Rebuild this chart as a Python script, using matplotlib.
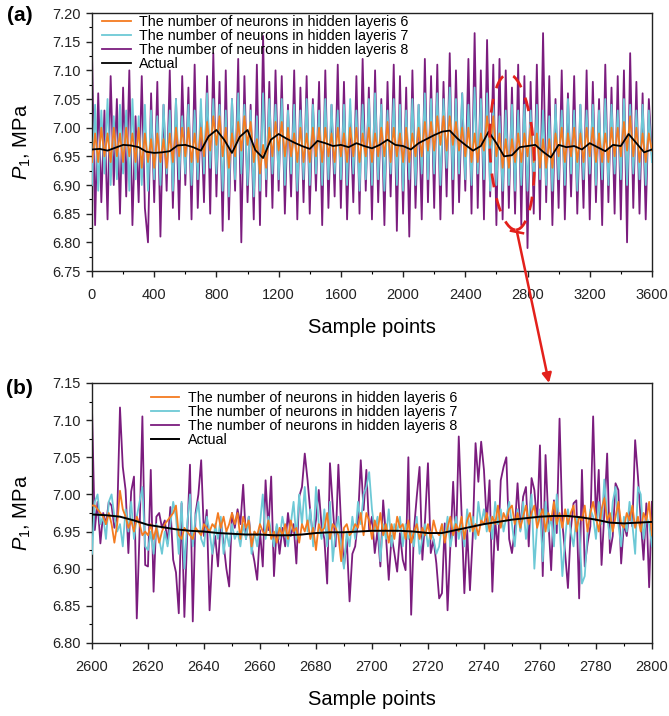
import numpy as np
import matplotlib
matplotlib.use("Agg")
import matplotlib.pyplot as plt
from matplotlib.patches import Ellipse, FancyArrowPatch
from matplotlib.lines import Line2D

plt.rcParams['font.family'] = ['Liberation Sans', 'DejaVu Sans']
plt.rcParams['mathtext.fontset'] = 'custom'
plt.rcParams['mathtext.rm'] = 'Liberation Sans'
plt.rcParams['mathtext.it'] = 'Liberation Sans:italic'

labels = ["The number of neurons in hidden layeris 6",
          "The number of neurons in hidden layeris 7",
          "The number of neurons in hidden layeris 8",
          "Actual"]

# ---- panel (a): whole test set, one value every 20 samples
step_a = 20
hid8_a = [7.135, 6.83, 7.06, 6.87, 7.03, 6.84, 7.09, 6.90, 7.05, 6.85,
          7.07, 6.88, 7.10, 6.83, 7.02, 6.87, 7.09, 6.86, 6.80, 7.06,
          6.87, 7.08, 6.81, 7.04, 6.89, 7.10, 6.86, 7.05, 6.84, 7.09,
          6.90, 7.07, 6.84, 7.11, 6.86, 7.03, 6.87, 7.09, 6.85, 7.13,
          6.88, 7.08, 6.82, 7.10, 6.84, 7.05, 6.89, 7.12, 6.80, 7.09,
          6.87, 7.04, 6.84, 7.11, 6.83, 7.16, 6.88, 7.08, 6.86, 7.10,
          6.89, 7.09, 6.85, 7.04, 6.88, 7.10, 6.84, 7.07, 6.87, 7.09,
          6.85, 7.05, 6.89, 7.08, 6.83, 7.10, 6.86, 7.04, 6.88, 7.11,
          6.86, 7.08, 6.84, 7.03, 6.87, 7.09, 6.85, 7.12, 6.89, 7.07,
          6.84, 7.10, 6.87, 7.05, 6.83, 7.08, 6.88, 7.11, 6.82, 7.09,
          6.85, 7.07, 6.81, 7.10, 6.86, 7.04, 6.84, 7.12, 6.87, 7.09,
          6.86, 7.11, 6.84, 7.08, 6.88, 7.13, 6.85, 7.10, 6.87, 7.06,
          6.89, 7.12, 6.85, 7.165, 6.86, 7.10, 6.84, 7.153, 6.88, 7.11,
          6.83, 7.12, 6.84, 7.10, 6.86, 7.07, 6.85, 7.11, 6.83, 7.09,
          6.79, 7.08, 6.85, 7.11, 6.84, 7.165, 6.87, 7.09, 6.83, 7.05,
          6.86, 7.10, 6.84, 7.06, 6.88, 7.09, 6.85, 7.04, 6.86, 7.10,
          6.84, 7.08, 6.87, 7.05, 6.83, 7.11, 6.87, 7.07, 6.85, 7.09,
          6.84, 7.10, 6.80, 7.13, 6.86, 7.08, 6.85, 7.06, 6.84, 7.05, 6.95]
hid7_a = [6.90, 7.04, 6.89, 7.03, 6.92, 7.05, 6.90, 7.02, 6.91, 7.04,
          6.92, 7.03, 6.89, 7.05, 6.91, 7.02, 6.90, 7.04, 6.89, 7.03,
          6.91, 7.02, 6.90, 7.04, 6.92, 7.03, 6.89, 7.05, 6.91, 7.02,
          6.92, 7.04, 6.90, 7.03, 6.91, 7.05, 6.92, 7.06, 6.93, 7.05,
          6.92, 7.04, 6.89, 7.03, 6.88, 7.05, 6.91, 7.06, 6.92, 7.04,
          6.90, 7.03, 6.88, 7.02, 6.89, 7.06, 6.91, 7.05, 6.92, 7.04,
          6.91, 7.05, 6.90, 7.03, 6.92, 7.04, 6.89, 7.03, 6.91, 7.05,
          6.90, 7.04, 6.92, 7.03, 6.90, 7.05, 6.91, 7.04, 6.92, 7.03,
          6.91, 7.04, 6.90, 7.05, 6.92, 7.03, 6.89, 7.04, 6.91, 7.05,
          6.90, 7.06, 6.91, 7.04, 6.89, 7.03, 6.92, 7.05, 6.90, 7.04,
          6.89, 7.03, 6.91, 7.05, 6.90, 7.04, 6.92, 7.06, 6.91, 7.05,
          6.92, 7.06, 6.90, 7.05, 6.93, 7.07, 6.91, 7.05, 6.92, 7.06,
          6.91, 7.04, 6.90, 7.07, 6.92, 7.05, 6.91, 7.06, 6.89, 7.04,
          6.90, 7.02, 6.89, 7.03, 6.90, 7.04, 6.89, 7.03, 6.90, 7.04,
          6.89, 7.03, 6.90, 7.04, 6.91, 7.03, 6.90, 7.02, 6.89, 7.04,
          6.91, 7.03, 6.90, 7.05, 6.92, 7.03, 6.89, 7.04, 6.91, 7.03,
          6.92, 7.04, 6.90, 7.03, 6.91, 7.05, 6.90, 7.04, 6.92, 7.03,
          6.91, 7.05, 6.90, 7.04, 6.92, 7.03, 6.91, 7.04, 6.90, 7.03, 6.94]
hid6_a = [6.94, 6.99, 6.94, 7.00, 6.95, 6.99, 6.94, 7.00, 6.95, 6.99,
          6.94, 7.00, 6.95, 6.99, 6.94, 7.00, 6.93, 6.99, 6.94, 6.98,
          6.93, 6.99, 6.94, 6.98, 6.93, 6.99, 6.94, 7.00, 6.95, 7.00,
          6.95, 7.00, 6.94, 6.99, 6.94, 7.00, 6.95, 7.01, 6.96, 7.02,
          6.97, 7.02, 6.95, 7.00, 6.93, 6.99, 6.95, 7.01, 6.96, 7.02,
          6.97, 7.01, 6.94, 6.98, 6.92, 6.97, 6.93, 7.00, 6.95, 7.01,
          6.96, 7.01, 6.95, 7.00, 6.95, 6.99, 6.94, 7.00, 6.94, 6.99,
          6.94, 7.00, 6.95, 7.00, 6.94, 7.00, 6.95, 6.99, 6.94, 7.00,
          6.95, 6.99, 6.94, 7.00, 6.95, 7.00, 6.94, 6.99, 6.95, 7.00,
          6.94, 6.99, 6.95, 7.00, 6.95, 7.01, 6.94, 7.00, 6.95, 6.99,
          6.94, 7.00, 6.94, 6.99, 6.95, 7.00, 6.95, 7.01, 6.96, 7.01,
          6.96, 7.02, 6.97, 7.02, 6.96, 7.02, 6.97, 7.01, 6.96, 7.00,
          6.95, 7.00, 6.94, 6.99, 6.94, 6.99, 6.96, 7.02, 6.97, 7.02,
          6.95, 6.99, 6.93, 6.98, 6.93, 6.98, 6.94, 6.99, 6.94, 6.99,
          6.95, 7.00, 6.94, 6.99, 6.93, 6.98, 6.93, 6.98, 6.93, 6.99,
          6.95, 7.00, 6.94, 6.99, 6.95, 7.00, 6.94, 6.99, 6.94, 7.00,
          6.95, 7.00, 6.94, 6.99, 6.94, 6.99, 6.94, 7.00, 6.95, 7.00,
          6.95, 7.01, 6.96, 7.02, 6.95, 7.00, 6.94, 6.99, 6.94, 6.99, 6.96]
actual_step_a = 50
actual_a = [6.962, 6.963, 6.960, 6.965, 6.970, 6.969, 6.966, 6.958, 6.956, 6.957,
            6.959, 6.969, 6.970, 6.966, 6.960, 6.985, 6.996, 6.979, 6.956, 6.984,
            6.996, 6.961, 6.947, 6.979, 6.989, 6.981, 6.974, 6.968, 6.963, 6.977,
            6.973, 6.968, 6.970, 6.966, 6.973, 6.968, 6.964, 6.970, 6.979, 6.970,
            6.968, 6.962, 6.973, 6.980, 6.987, 6.993, 6.995, 6.981, 6.970, 6.960,
            6.968, 6.993, 6.973, 6.950, 6.952, 6.966, 6.968, 6.970, 6.958, 6.948,
            6.970, 6.966, 6.968, 6.962, 6.973, 6.966, 6.959, 6.970, 6.968, 6.989,
            6.973, 6.957, 6.962]

# ---- panel (b): zoom on samples 2600-2800, every sample
start_b = 2600
hid8_b = [7.116, 6.952, 6.99, 6.934, 6.975, 6.96, 6.99, 6.985, 6.955, 6.97,
          7.117, 7.037, 7.006, 6.921, 7.004, 7.024, 6.833, 6.95, 7.105, 6.905,
          6.903, 7.033, 6.869, 6.97, 6.975, 6.955, 6.965, 6.934, 6.983, 6.912,
          6.895, 6.84, 6.988, 6.835, 6.944, 7.04, 6.829, 6.975, 7.0, 7.046,
          6.944, 6.979, 6.844, 6.92, 6.944, 6.903, 6.965, 6.934, 6.90, 6.876,
          6.975, 6.955, 6.98, 6.96, 7.013, 6.94, 6.97, 6.93, 6.91, 6.885,
          6.952, 6.903, 7.019, 6.952, 7.024, 6.89, 6.957, 6.92, 6.955, 6.93,
          6.975, 6.944, 6.96, 6.907, 6.997, 7.01, 7.055, 7.019, 6.975, 6.94,
          6.965, 7.006, 6.957, 6.94, 6.88, 7.042, 6.984, 6.93, 7.04, 6.957,
          6.903, 6.94, 6.856, 6.92, 6.93, 6.965, 7.046, 6.979, 7.033, 6.952,
          6.97, 6.921, 6.952, 6.903, 6.992, 6.944, 6.885, 6.944, 6.921, 6.896,
          6.948, 6.912, 6.898, 7.05, 6.838, 6.952, 6.997, 7.037, 6.912, 6.968,
          7.042, 6.921, 6.939, 6.907, 6.86, 6.867, 6.961, 6.844, 6.93, 7.017,
          6.93, 7.078, 6.975, 6.867, 6.952, 6.871, 6.944, 7.069, 7.017, 7.071,
          7.033, 6.961, 7.019, 6.869, 6.966, 6.925, 7.019, 7.037, 7.05, 6.94,
          6.921, 6.952, 7.015, 6.952, 6.997, 7.01, 6.93, 7.022, 7.006, 6.961,
          7.066, 6.89, 7.053, 6.965, 6.898, 6.992, 6.948, 7.102, 6.961, 6.921,
          6.874, 6.952, 6.988, 6.992, 6.86, 7.033, 6.903, 6.934, 6.957, 7.105,
          6.965, 7.033, 6.905, 6.975, 7.055, 6.921, 6.944, 7.015, 7.006, 6.907,
          6.961, 6.944, 6.979, 6.957, 7.073, 7.024, 6.965, 6.912, 6.988, 6.875,
          6.99]
hid7_b = [6.92, 6.99, 7.00, 6.96, 6.97, 6.94, 6.99, 7.00, 6.97, 6.95,
          6.96, 6.93, 6.98, 6.95, 6.99, 6.94, 6.97, 6.99, 7.01, 6.93,
          6.925, 6.95, 6.92, 6.96, 6.94, 6.92, 6.95, 6.93, 6.96, 6.99,
          6.97, 6.92, 6.99, 6.90, 6.96, 7.00, 6.93, 6.97, 6.99, 6.94,
          6.93, 6.97, 6.95, 6.92, 6.96, 6.94, 6.97, 6.92, 6.95, 6.93,
          6.96, 6.94, 6.95, 6.93, 6.96, 6.94, 6.97, 6.92, 6.95, 6.93,
          6.96, 7.00, 6.94, 6.97, 6.95, 6.93, 6.96, 6.94, 6.97, 6.95,
          6.93, 6.96, 6.99, 6.94, 7.00, 6.96, 7.01, 6.95, 6.98, 6.93,
          7.01, 6.96, 6.94, 6.98, 6.93, 6.99, 6.91, 6.95, 6.97, 6.93,
          6.90, 6.95, 6.93, 6.97, 6.94, 6.99, 6.96, 7.00, 7.01, 7.03,
          6.98, 6.95, 6.97, 6.91, 6.96, 6.94, 6.98, 6.93, 6.96, 6.95,
          6.97, 6.93, 6.96, 6.94, 6.95, 6.93, 6.97, 6.92, 6.94, 6.96,
          6.93, 6.95, 6.94, 6.92, 6.93, 6.96, 6.94, 6.97, 6.93, 6.95,
          6.97, 6.94, 6.96, 6.93, 6.98, 6.95, 6.97, 6.94, 6.99, 6.96,
          6.98, 6.95, 6.97, 6.94, 6.99, 6.96, 6.98, 6.95, 6.97, 6.99,
          6.96, 6.93, 6.98, 6.95, 6.99, 6.94, 6.97, 7.00, 6.90, 6.96,
          6.98, 6.91, 6.99, 6.95, 6.97, 6.93, 7.00, 6.96, 6.89, 6.94,
          6.98, 6.95, 6.93, 6.97, 6.96, 6.88, 6.89, 6.95, 6.98, 6.97,
          6.94, 6.99, 6.96, 7.02, 6.97, 6.94, 6.99, 7.01, 6.96, 6.93,
          6.97, 6.95, 6.99, 6.96, 6.92, 7.01, 7.00, 6.94, 6.97, 6.96,
          6.93]
hid6_b = [6.985, 6.985, 6.98, 6.975, 6.97, 6.96, 6.975, 6.96, 6.935, 6.96,
          7.005, 6.98, 6.97, 6.955, 6.965, 6.95, 6.97, 6.96, 6.945, 6.95,
          6.945, 6.96, 6.94, 6.955, 6.935, 6.95, 6.96, 6.965, 6.97, 6.975,
          6.985, 6.945, 6.94, 6.955, 6.95, 6.945, 6.94, 6.955, 6.95, 6.945,
          6.96, 6.955, 6.95, 6.96, 6.955, 6.975, 6.955, 6.97, 6.95, 6.96,
          6.975, 6.96, 6.975, 6.94, 6.97, 6.955, 6.965, 6.93, 6.95, 6.945,
          6.96, 6.95, 6.945, 6.965, 6.94, 6.95, 6.935, 6.955, 6.945, 6.96,
          6.94, 6.965, 6.95, 6.955, 6.935, 6.96, 6.95, 6.965, 6.94, 6.955,
          6.925, 6.96, 6.95, 6.955, 6.975, 6.94, 6.96, 6.955, 6.945, 6.91,
          6.955, 6.96, 6.945, 6.95, 6.96, 6.955, 6.975, 6.945, 6.975, 6.965,
          6.94, 6.965, 6.95, 6.975, 6.945, 6.96, 6.935, 6.96, 6.94, 6.97,
          6.955, 6.96, 6.94, 6.965, 6.935, 6.95, 6.96, 6.94, 6.955, 6.945,
          6.96, 6.94, 6.965, 6.95, 6.945, 6.96, 6.935, 6.955, 6.97, 6.945,
          6.96, 6.95, 6.97, 6.94, 6.965, 6.975, 6.95, 6.96, 6.945, 6.965,
          6.96, 6.975, 6.95, 6.97, 6.96, 6.985, 6.955, 6.975, 6.965, 6.98,
          6.985, 6.96, 6.975, 6.955, 6.97, 6.985, 6.96, 6.975, 6.985, 6.955,
          6.97, 6.98, 6.95, 6.975, 6.965, 6.99, 6.96, 6.975, 6.955, 6.98,
          6.96, 6.975, 6.985, 6.95, 6.97, 6.965, 6.985, 6.95, 6.975, 6.99,
          6.97, 6.95, 6.98, 6.995, 6.965, 6.975, 6.95, 6.97, 6.99, 6.96,
          6.955, 6.975, 6.965, 6.985, 6.955, 6.97, 6.95, 6.975, 6.965, 6.99,
          6.945]
actual_step_b = 5
actual_b = [6.973, 6.972, 6.970, 6.965, 6.959, 6.956, 6.953, 6.951, 6.950, 6.948,
            6.947, 6.946, 6.946, 6.945, 6.945, 6.946, 6.948, 6.949, 6.949, 6.950,
            6.951, 6.951, 6.951, 6.950, 6.948, 6.948, 6.952, 6.956, 6.960, 6.963,
            6.966, 6.968, 6.970, 6.971, 6.971, 6.969, 6.966, 6.962, 6.961, 6.962,
            6.963]

c_orange = '#F47B20'
c_cyan = '#6DC9D6'
c_purple = '#7B1C7E'
red = '#E3201B'

fig = plt.figure(figsize=(6.69, 7.16), dpi=100)
ax1 = fig.add_axes([0.1375, 0.6215, 0.837, 0.3603])
ax2 = fig.add_axes([0.1375, 0.1020, 0.837, 0.3631])


def draw(ax, x, x_act, h6, h7, h8, act, lw, lw_act):
    ax.plot(x, h8, color=c_purple, lw=lw, label=labels[2], zorder=2)
    ax.plot(x, h7, color=c_cyan, lw=lw, label=labels[1], zorder=3)
    ax.plot(x, h6, color=c_orange, lw=lw, label=labels[0], zorder=4)
    ax.plot(x_act, act, color='black', lw=lw_act, label=labels[3], zorder=5)
    h, l = ax.get_legend_handles_labels()
    order = [2, 1, 0, 3]
    return [h[i] for i in order], [l[i] for i in order]


xa = np.arange(len(hid8_a)) * step_a
xa_act = np.arange(len(actual_a)) * actual_step_a
h, l = draw(ax1, xa, xa_act, hid6_a, hid7_a, hid8_a, actual_a, 1.3, 1.3)
ax1.legend(h, l, loc='upper left', bbox_to_anchor=(0.0, 1.03), frameon=False,
           fontsize=10.3, handlelength=2.0, handletextpad=0.6, labelspacing=0.0,
           borderaxespad=0.3)

xb = start_b + np.arange(len(hid8_b))
xb_act = start_b + np.arange(len(actual_b)) * actual_step_b
h, l = draw(ax2, xb, xb_act, hid6_b, hid7_b, hid8_b, actual_b, 1.3, 1.4)
ax2.legend(h, l, loc='upper left', bbox_to_anchor=(0.087, 1.006), frameon=False,
           fontsize=10.3, handlelength=2.0, handletextpad=0.6, labelspacing=0.0,
           borderaxespad=0.3)

ax1.set_xlim(0, 3600)
ax1.set_ylim(6.75, 7.20)
ax1.set_xticks(np.arange(0, 3601, 400))
ax1.set_xticks(np.arange(0, 3601, 200), minor=True)
ax1.set_yticks(np.arange(6.75, 7.2001, 0.05))
ax1.set_yticks(np.arange(6.75, 7.2001, 0.025), minor=True)

ax2.set_xlim(2600, 2800)
ax2.set_ylim(6.80, 7.15)
ax2.set_xticks(np.arange(2600, 2801, 20))
ax2.set_xticks(np.arange(2600, 2801, 10), minor=True)
ax2.set_yticks(np.arange(6.80, 7.1501, 0.05))
ax2.set_yticks(np.arange(6.80, 7.1501, 0.025), minor=True)

for ax, tag, ty in ((ax1, '(a)', 0.99), (ax2, '(b)', 0.98)):
    ax.yaxis.set_major_formatter(matplotlib.ticker.FormatStrFormatter('%.2f'))
    ax.tick_params(which='major', direction='out', length=4, width=1,
                   labelsize=10.5, colors='#222222', top=False, right=False)
    ax.tick_params(which='minor', direction='out', length=2.5, width=0.8,
                   top=False, right=False)
    ax.tick_params(axis='x', which='major', pad=8)
    ax.tick_params(axis='y', which='major', pad=4)
    for s in ax.spines.values():
        s.set_linewidth(1.0)
        s.set_color('#222222')
    ax.set_xlabel('Sample points', fontsize=14.5, labelpad=12)
    ax.set_ylabel(r'$P_1$, MPa', fontsize=14.5, labelpad=14)
    ax.text(-0.129, ty, tag, transform=ax.transAxes, fontsize=15,
            fontweight='bold', ha='center', va='center')

# red dashed ellipse around the zoomed window and the arrow to panel (b)
ell = Ellipse((5.12, 5.64), 0.44, 1.56, angle=3, fill=False, edgecolor=red,
              lw=2.0, linestyle=(0, (5, 4)), transform=fig.dpi_scale_trans,
              zorder=10)
fig.add_artist(ell)
tail = (517 / 669, 1 - 232 / 716)
head = (549 / 669, 1 - 383 / 716)
arrow = FancyArrowPatch(tail, head, transform=fig.transFigure,
                        arrowstyle='-|>', mutation_scale=14, lw=1.8,
                        color=red, shrinkA=0, shrinkB=0, zorder=10)
fig.add_artist(arrow)
fig.add_artist(Line2D([511 / 669, 523 / 669], [1 - 230.8 / 716, 1 - 233.2 / 716],
                      transform=fig.transFigure, color=red, lw=1.8, zorder=10))

fig.savefig('out.png', dpi=100)
